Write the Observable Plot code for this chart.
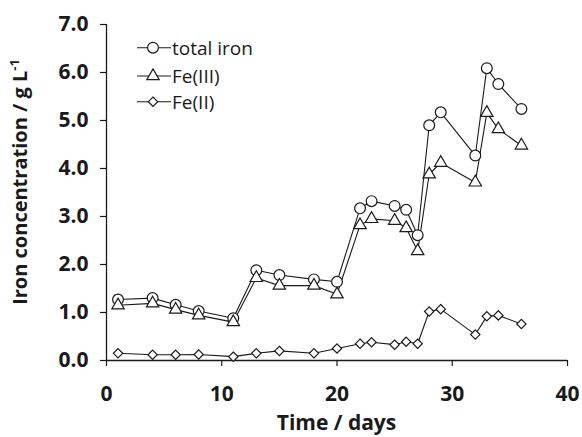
<!DOCTYPE html>
<html>
<head>
<meta charset="utf-8">
<script src="https://cdn.jsdelivr.net/npm/d3@7"></script>
<script src="https://cdn.jsdelivr.net/npm/@observablehq/plot@0.6"></script>
<style>
  html, body { margin: 0; padding: 0; background: #fff; }
  #chart { width: 582px; height: 437px; }
</style>
</head>
<body>
<div id="chart"></div>
<script>
const days = [1, 4, 6, 8, 11, 13, 15, 18, 20, 22, 23, 25, 26, 27, 28, 29, 32, 33, 34, 36];
const totalIron = [1.27, 1.30, 1.16, 1.03, 0.88, 1.88, 1.78, 1.69, 1.64, 3.17, 3.32, 3.22, 3.14, 2.61, 4.90, 5.17, 4.27, 6.09, 5.76, 5.24];
const fe3 = [1.15, 1.19, 1.06, 0.94, 0.80, 1.72, 1.56, 1.56, 1.38, 2.82, 2.95, 2.91, 2.76, 2.28, 3.88, 4.12, 3.71, 5.16, 4.82, 4.48];
const fe2 = [0.15, 0.12, 0.12, 0.125, 0.08, 0.15, 0.20, 0.15, 0.25, 0.35, 0.38, 0.33, 0.39, 0.35, 1.02, 1.07, 0.54, 0.92, 0.94, 0.76];
const seriesNames = ["total iron", "Fe(III)", "Fe(II)"];
const xTicks = [0, 10, 20, 30, 40];
const yTicks = [0, 1, 2, 3, 4, 5, 6, 7];
const xTitle = "Time / days";
const yTitle = "Iron concentration / g L";
const yTitleSup = "-1";

const seriesValues = [totalIron, fe3, fe2];
const table = [];
seriesNames.forEach((name, k) => {
  days.forEach((d, i) => table.push({ series: name, day: d, value: seriesValues[k][i] }));
});

const ink = "#1a1a1a";
const symbols = { "total iron": "circle", "Fe(III)": "triangle", "Fe(II)": "diamond2" };
const radii = { "total iron": 5.4, "Fe(III)": 4.6, "Fe(II)": 4.2 };
const font = "'Open Sans', sans-serif";

const svgNode = Plot.plot({
  width: 582,
  height: 437,
  marginLeft: 106,
  marginRight: 15,
  marginTop: 24,
  marginBottom: 77,
  style: { fontFamily: font, fontSize: "21px", fontWeight: "bold", color: ink, background: "#fff" },
  x: { domain: [0, 40] },
  y: { domain: [0, 7] },
  marks: [
    Plot.axisX({ ticks: xTicks, tickSize: 6, tickPadding: 20, label: null, fontSize: 21, fontWeight: "bold", stroke: ink, strokeWidth: 1.2 }),
    Plot.axisY({ ticks: yTicks, tickSize: 6, tickPadding: 12, tickFormat: ".1f", label: null, fontSize: 21, fontWeight: "bold", stroke: ink, strokeWidth: 1.2 }),
    Plot.ruleX([0], { stroke: ink, strokeWidth: 1.3 }),
    Plot.ruleY([0], { stroke: ink, strokeWidth: 1.3 }),
    Plot.line(table, { x: "day", y: "value", z: "series", stroke: ink, strokeWidth: 1.1 }),
    ...seriesNames.map(name =>
      Plot.dot(table.filter(d => d.series === name), {
        x: "day", y: "value", symbol: () => symbols[name], r: radii[name],
        fill: "#fff", stroke: ink, strokeWidth: 1.2
      })
    )
  ]
});

document.getElementById("chart").appendChild(svgNode);
const svg = d3.select(svgNode);

// Axis titles
svg.append("text")
  .attr("x", 336.5).attr("y", 430)
  .attr("text-anchor", "middle")
  .attr("font-family", font).attr("font-size", 21).attr("font-weight", "bold")
  .attr("fill", ink)
  .text(xTitle);

const yt = svg.append("text")
  .attr("transform", "translate(27,182) rotate(-90)")
  .attr("text-anchor", "middle")
  .attr("font-family", font).attr("font-size", 20).attr("font-weight", "bold")
  .attr("fill", ink);
yt.append("tspan").text(yTitle);
yt.append("tspan").attr("dy", -8).attr("font-size", 13).text(yTitleSup);

// Legend
const legendRows = [47.7, 76, 101.7];
const symMap = { "total iron": d3.symbolCircle, "Fe(III)": d3.symbolTriangle, "Fe(II)": d3.symbolDiamond2 };
const lg = svg.append("g");
seriesNames.forEach((name, i) => {
  const y = legendRows[i];
  lg.append("line").attr("x1", 137).attr("x2", 171).attr("y1", y).attr("y2", y)
    .attr("stroke", ink).attr("stroke-width", 1.1);
  lg.append("path")
    .attr("d", d3.symbol(symMap[name], Math.PI * radii[name] * radii[name])())
    .attr("transform", `translate(153,${y})`)
    .attr("fill", "#fff").attr("stroke", ink).attr("stroke-width", 1.2);
  lg.append("text").attr("x", 172).attr("y", y).attr("dy", "0.36em")
    .attr("text-anchor", "start")
    .attr("font-family", font).attr("font-size", 19).attr("font-weight", "normal")
    .attr("fill", ink).text(name);
});
</script>
</body>
</html>
